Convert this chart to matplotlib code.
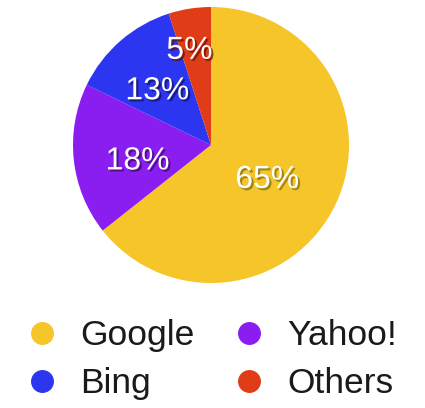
import numpy as np
import matplotlib
matplotlib.use("Agg")
import matplotlib.pyplot as plt
import matplotlib.patheffects as pe
from matplotlib.lines import Line2D

labels = ["Google", "Yahoo!", "Bing", "Others"]
shares = [65, 18, 13, 5]
colors = ["#F6C52A", "#8A1EF0", "#2C35F0", "#E03C18"]

# label placement styles (radius fraction, angle nudge in degrees)
label_r = [0.48, 0.545, 0.55, 0.70]
label_nudge = [-6, 6.4, 4, 4]
shadow_cols = ["#7a6a10", "#3a0a60", "#10104a", "#5a1005"]

plt.rcParams['font.family'] = ['Liberation Sans', 'DejaVu Sans']

W, H = 425, 408
fig = plt.figure(figsize=(W / 100, H / 100), dpi=100)
fig.patch.set_facecolor("white")

cx, cy, r = 211, 145, 138
ax = fig.add_axes([(cx - r) / W, (H - cy - r) / H, 2 * r / W, 2 * r / H])
wedges, _ = ax.pie(shares, colors=colors, startangle=90, counterclock=False,
                   wedgeprops=dict(linewidth=0))
ax.set_aspect("equal")
ax.set_xlim(-1, 1)
ax.set_ylim(-1, 1)
ax.axis("off")

for w, s, rr, nd, sc in zip(wedges, shares, label_r, label_nudge, shadow_cols):
    mid = np.deg2rad((w.theta1 + w.theta2) / 2 + nd)
    t = ax.text(rr * np.cos(mid), rr * np.sin(mid), f"{s}%", ha="center", va="center",
                color="white", fontsize=23)
    t.set_path_effects([pe.SimplePatchShadow(offset=(1.5, -1.5), shadow_rgbFace=sc, alpha=0.7),
                        pe.Normal()])

handles = [Line2D([], [], linestyle="none", marker="o", markersize=15.5,
                  markerfacecolor=c, markeredgecolor=c) for c in colors]
order = [0, 2, 1, 3]
leg = fig.legend([handles[i] for i in order], [labels[i] for i in order], ncol=2,
                 loc="upper left", bbox_to_anchor=(24 / W, 1 - 319 / H),
                 frameon=False, fontsize=25.5, handlelength=1.0, handletextpad=0.58,
                 columnspacing=1.05, labelspacing=0.43, borderpad=0, borderaxespad=0)
for t in leg.get_texts():
    t.set_color("#1a1a1a")

fig.savefig("out.png", dpi=100)
